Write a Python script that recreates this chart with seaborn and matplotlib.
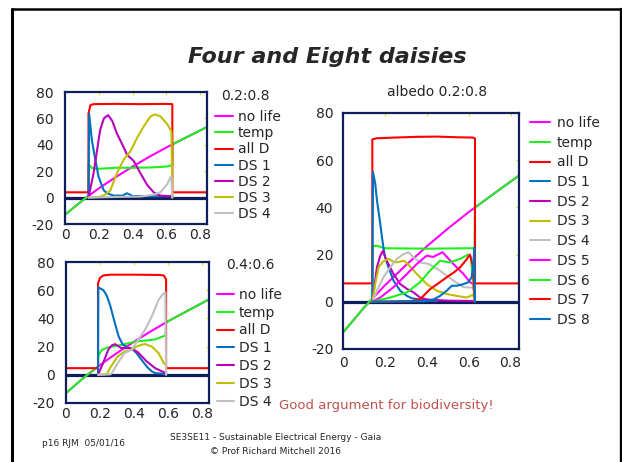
import pandas as pd
import seaborn as sns
import matplotlib.pyplot as plt
from matplotlib.lines import Line2D

# -------- SERIES NAMES AND COLOURS --------
SERIES_4 = ['no life', 'temp', 'all D', 'DS 1', 'DS 2', 'DS 3', 'DS 4']
SERIES_8 = SERIES_4 + ['DS 5', 'DS 6', 'DS 7', 'DS 8']
COLOURS = {
    'no life': '#FF00FF', 'temp': '#1EF01E', 'all D': '#FF0000',
    'DS 1': '#0070C0', 'DS 2': '#BB00BB', 'DS 3': '#BFBF00', 'DS 4': '#C0C0C0',
    'DS 5': '#FF00FF', 'DS 6': '#1EF01E', 'DS 7': '#FF0000', 'DS 8': '#0070C0',
}
NAVY = '#0E1E5B'

# -------- DATA: temperature with no life (same in every panel) --------
nolife_x = [0, 0.1, 0.2, 0.3, 0.4, 0.5, 0.6, 0.7, 0.84]
nolife_y = [-13, -2.5, 7, 15.5, 23.5, 31, 38, 44.5, 53.5]

# -------- DATA: four daisies, albedo 0.2:0.8 --------
a_temp_x = [0, 0.1, 0.139, 0.14, 0.16, 0.18, 0.22, 0.3, 0.4, 0.5, 0.6, 0.628, 0.635, 0.636, 0.7, 0.84]
a_temp_y = [-13, -2.5, 1.2, 25, 22.5, 21.8, 22, 22.6, 22.6, 22.8, 23.5, 24.4, 24.4, 40.3, 44.5, 53.5]
a_all_x = [0, 0.139, 0.139, 0.15, 0.17, 0.3, 0.45, 0.6, 0.635, 0.635, 0.84]
a_all_y = [4, 4, 63.5, 70, 70.8, 71, 70.8, 71, 70.8, 4, 4]
a_ds1_x = [0.139, 0.143, 0.159, 0.173, 0.198, 0.228, 0.248, 0.288, 0.34, 0.367, 0.4, 0.5, 0.635]
a_ds1_y = [0, 63.5, 43.4, 33.3, 16, 5.8, 3.3, 1.5, 1.5, 3.3, 1.2, 1, 1]
a_ds2_x = [0.139, 0.169, 0.19, 0.208, 0.23, 0.255, 0.28, 0.307, 0.34, 0.367, 0.407, 0.446, 0.486, 0.526, 0.565, 0.635]
a_ds2_y = [0, 18.5, 36, 51.3, 60, 62.5, 58, 48.5, 40, 32.5, 27.7, 18.5, 9.6, 3.8, 1.5, 1]
a_ds3_x = [0.139, 0.2, 0.228, 0.268, 0.307, 0.347, 0.387, 0.426, 0.466, 0.506, 0.53, 0.565, 0.605, 0.63, 0.635]
a_ds3_y = [0, 0.5, 1.5, 5.3, 18.5, 28.7, 35, 45.2, 54, 61.5, 63, 61.5, 55.6, 50, 0]
a_ds4_x = [0.139, 0.3, 0.45, 0.486, 0.53, 0.565, 0.605, 0.629, 0.635]
a_ds4_y = [0, 0.5, 0.8, 1.5, 2.5, 4, 10.3, 16.5, 0]

# -------- DATA: four daisies, albedo 0.4:0.6 --------
b_temp_x = [0, 0.1, 0.188, 0.19, 0.21, 0.25, 0.31, 0.37, 0.42, 0.47, 0.52, 0.56, 0.585, 0.588, 0.7, 0.84]
b_temp_y = [-13, -2.5, 5.9, 13.5, 17.7, 19.6, 20.8, 22.5, 23.8, 24.3, 25, 26.8, 27.9, 37.2, 44.5, 53.5]
b_all_x = [0, 0.188, 0.188, 0.2, 0.22, 0.26, 0.4, 0.55, 0.575, 0.588, 0.588, 0.84]
b_all_y = [4.7, 4.7, 65, 68.8, 70.5, 71, 71, 70.8, 70.4, 67.6, 4.7, 4.7]
b_ds1_x = [0.188, 0.19, 0.22, 0.24, 0.26, 0.284, 0.31, 0.334, 0.364, 0.394, 0.414, 0.444, 0.474, 0.504, 0.524, 0.588]
b_ds1_y = [0, 62, 60, 56, 49, 38, 27, 21.3, 19.4, 17.7, 15.4, 10.6, 5.9, 2.4, 1.2, 0.5]
b_ds2_x = [0.188, 0.218, 0.248, 0.27, 0.29, 0.324, 0.384, 0.424, 0.474, 0.524, 0.564, 0.588]
b_ds2_y = [0, 8.3, 17.7, 21, 21.7, 19, 18.9, 15.8, 9.5, 4.7, 2.4, 1.2]
b_ds3_x = [0.188, 0.24, 0.264, 0.304, 0.344, 0.384, 0.414, 0.444, 0.464, 0.504, 0.544, 0.574, 0.588, 0.588]
b_ds3_y = [0, 0.5, 5.9, 13, 16.5, 17.7, 20, 21.3, 21.8, 20, 15.4, 8.3, 7, 0]
b_ds4_x = [0.188, 0.26, 0.27, 0.304, 0.344, 0.384, 0.424, 0.464, 0.504, 0.544, 0.574, 0.584, 0.588]
b_ds4_y = [0, 0.3, 1.2, 8.3, 15.4, 17.7, 24.8, 31.9, 41.4, 53.2, 57.9, 58.4, 0]

# -------- DATA: eight daisies, albedo 0.2:0.8 --------
c_temp_x = [0, 0.1, 0.14, 0.141, 0.16, 0.2, 0.3, 0.4, 0.5, 0.6, 0.628, 0.63, 0.7, 0.84]
c_temp_y = [-13, -2.5, 1.3, 23.5, 23.8, 22.7, 22.6, 22.5, 22.6, 22.7, 22.6, 40, 44.5, 53.5]
c_all_x = [0, 0.14, 0.14, 0.16, 0.25, 0.35, 0.45, 0.55, 0.62, 0.63, 0.63, 0.84]
c_all_y = [7.8, 7.8, 68.8, 69.3, 69.6, 69.9, 70, 69.7, 69.6, 69.2, 7.8, 7.8]
c_ds1_x = [0.14, 0.143, 0.154, 0.162, 0.178, 0.186, 0.193, 0.201, 0.217, 0.241, 0.273, 0.305, 0.328, 0.4, 0.45]
c_ds1_y = [0, 55, 50, 43, 33, 27.3, 23, 18.9, 14.6, 9, 4.7, 2.5, 1.5, 0.5, 0.3]
c_ds2_x = [0.14, 0.162, 0.178, 0.19, 0.209, 0.241, 0.273, 0.305, 0.336, 0.368, 0.40, 0.5, 0.63]
c_ds2_y = [0, 14.6, 19.6, 21.5, 17.4, 11.8, 7.5, 5.5, 4, 1.8, 1, 0.5, 0.3]
c_ds3_x = [0.14, 0.154, 0.17, 0.19, 0.217, 0.24, 0.257, 0.29, 0.31, 0.352, 0.40, 0.448, 0.495, 0.543, 0.59, 0.622, 0.63]
c_ds3_y = [0, 7.5, 14.6, 17, 18.2, 17, 16.7, 17.4, 16, 11.8, 7.5, 4.7, 3.3, 2.5, 1.8, 3, 0]
c_ds4_x = [0.14, 0.162, 0.193, 0.225, 0.257, 0.285, 0.312, 0.335, 0.368, 0.41, 0.463, 0.527, 0.575, 0.622, 0.63]
c_ds4_y = [0, 4.7, 10.4, 14.6, 18.2, 20, 21, 19, 16.7, 16, 13.2, 9, 6.2, 6, 0]
c_ds5_x = [0.14, 0.178, 0.241, 0.305, 0.352, 0.40, 0.43, 0.475, 0.527, 0.575, 0.606, 0.622, 0.63]
c_ds5_y = [0, 1.8, 6.2, 11.8, 16, 19.6, 19, 21, 16, 11.8, 8.3, 7.5, 0]
c_ds6_x = [0.14, 0.225, 0.305, 0.368, 0.415, 0.463, 0.51, 0.559, 0.598, 0.61, 0.622, 0.63]
c_ds6_y = [0, 1.8, 4, 8.3, 13.2, 17.4, 16.7, 18.2, 20, 19, 8, 0]
c_ds7_x = [0.14, 0.33, 0.368, 0.416, 0.45, 0.495, 0.53, 0.559, 0.59, 0.606, 0.62, 0.63]
c_ds7_y = [0, 0.3, 1.1, 5.4, 7.5, 10.4, 12.5, 14.6, 18, 20, 15, 0]
c_ds8_x = [0.14, 0.4, 0.432, 0.463, 0.495, 0.519, 0.543, 0.575, 0.598, 0.614, 0.622, 0.627, 0.63]
c_ds8_y = [0, 0.3, 1, 2.5, 4.7, 6.8, 6.8, 7.5, 8.3, 10.4, 16, 23, 0]

# -------- BUILD LONG TABLES --------
def long_frame(series):
    parts = [pd.DataFrame({'x': xs, 'value': ys, 'series': name})
             for name, (xs, ys) in series.items()]
    return pd.concat(parts, ignore_index=True)

df_a = long_frame({
    'no life': (nolife_x, nolife_y), 'temp': (a_temp_x, a_temp_y), 'all D': (a_all_x, a_all_y),
    'DS 1': (a_ds1_x, a_ds1_y), 'DS 2': (a_ds2_x, a_ds2_y),
    'DS 3': (a_ds3_x, a_ds3_y), 'DS 4': (a_ds4_x, a_ds4_y),
})
df_b = long_frame({
    'no life': (nolife_x, nolife_y), 'temp': (b_temp_x, b_temp_y), 'all D': (b_all_x, b_all_y),
    'DS 1': (b_ds1_x, b_ds1_y), 'DS 2': (b_ds2_x, b_ds2_y),
    'DS 3': (b_ds3_x, b_ds3_y), 'DS 4': (b_ds4_x, b_ds4_y),
})
df_c = long_frame({
    'no life': (nolife_x, nolife_y), 'temp': (c_temp_x, c_temp_y), 'all D': (c_all_x, c_all_y),
    'DS 1': (c_ds1_x, c_ds1_y), 'DS 2': (c_ds2_x, c_ds2_y), 'DS 3': (c_ds3_x, c_ds3_y),
    'DS 4': (c_ds4_x, c_ds4_y), 'DS 5': (c_ds5_x, c_ds5_y), 'DS 6': (c_ds6_x, c_ds6_y),
    'DS 7': (c_ds7_x, c_ds7_y), 'DS 8': (c_ds8_x, c_ds8_y),
})

# -------- FIGURE --------
sns.set_style('white')
plt.rcParams['font.family'] = ['DejaVu Sans']
plt.rcParams['axes.unicode_minus'] = False
W, H = 622, 462
fig = plt.figure(figsize=(W / 100, H / 100), dpi=100)


def px_rect(left, top, right, bottom):
    return [left / W, 1 - bottom / H, (right - left) / W, (bottom - top) / H]


def draw_panel(rect, df, order, leg_xy, leg_space, handle_len, text_pad, ylab_pad, xlab_pad):
    ax = fig.add_axes(px_rect(*rect))
    ax.axhline(0, color=NAVY, lw=2.3, zorder=1.5)
    sns.lineplot(data=df, x='x', y='value', hue='series', hue_order=order,
                 palette=COLOURS, estimator=None, sort=False, linewidth=1.5, ax=ax)
    ax.set_xlim(0, 0.84)
    ax.set_ylim(-20, 80)
    ax.set_xticks([0, 0.2, 0.4, 0.6, 0.8])
    ax.set_xticklabels(['0', '0.2', '0.4', '0.6', '0.8'])
    ax.set_yticks([-20, 0, 20, 40, 60, 80])
    ax.set_xlabel('')
    ax.set_ylabel('')
    ax.tick_params(axis='both', direction='in', length=2, color='#E8E800',
                   top=True, right=True, labelsize=10)
    ax.tick_params(axis='y', pad=ylab_pad)
    ax.tick_params(axis='x', pad=xlab_pad)
    for sp in ax.spines.values():
        sp.set_color(NAVY)
        sp.set_linewidth(1.6)
    handles, labels = ax.get_legend_handles_labels()
    ax.legend(handles, labels, loc='upper left',
              bbox_to_anchor=(leg_xy[0] / W, 1 - leg_xy[1] / H), bbox_transform=fig.transFigure,
              frameon=False, fontsize=10, labelspacing=leg_space, handlelength=handle_len,
              handletextpad=text_pad, borderpad=0, borderaxespad=0)
    return ax


draw_panel((65, 92, 207, 224), df_a, SERIES_4, (215, 110), 0.16, 1.3, 0.36, 8, 3)
draw_panel((66, 262, 209, 403), df_b, SERIES_4, (217, 288), 0.27, 1.2, 0.36, 8, 3)
draw_panel((343, 113, 519, 349), df_c, SERIES_8, (530, 116), 0.41, 1.45, 0.5, 7, 5)

# -------- TEXT --------
fig.text(245 / W, 1 - 96 / H, '0.2:0.8', fontsize=10, ha='center', va='center')
fig.text(250 / W, 1 - 265 / H, '0.4:0.6', fontsize=10, ha='center', va='center')
fig.text(437 / W, 1 - 92 / H, 'albedo 0.2:0.8', fontsize=10, ha='center', va='center')
fig.text(327 / W, 1 - 63 / H, 'Four and Eight daisies', fontsize=16, fontweight='bold',
         style='italic', ha='center', va='baseline')
fig.text(386 / W, 1 - 406 / H, 'Good argument for biodiversity!', fontsize=9.5,
         color='#C0504D', ha='center', va='center')
fig.text(84 / W, 1 - 444 / H, 'p16 RJM  05/01/16', fontsize=6.5, ha='center', va='center')
fig.text(276 / W, 1 - 437 / H, 'SE3SE11 - Sustainable Electrical Energy - Gaia',
         fontsize=6.5, ha='center', va='center')
fig.text(276 / W, 1 - 452 / H, '\u00a9 Prof Richard Mitchell 2016',
         fontsize=6.5, ha='center', va='center')

# -------- SLIDE BORDER --------
top_y = 1 - 8.5 / H
fig.add_artist(Line2D([12 / W, 12 / W], [0, top_y], color='black', lw=2.2))
fig.add_artist(Line2D([12 / W, 620.5 / W], [top_y, top_y], color='black', lw=1.8))
fig.add_artist(Line2D([620.5 / W, 620.5 / W], [0, top_y], color='black', lw=2.4))

fig.savefig('out.png', dpi=100)
